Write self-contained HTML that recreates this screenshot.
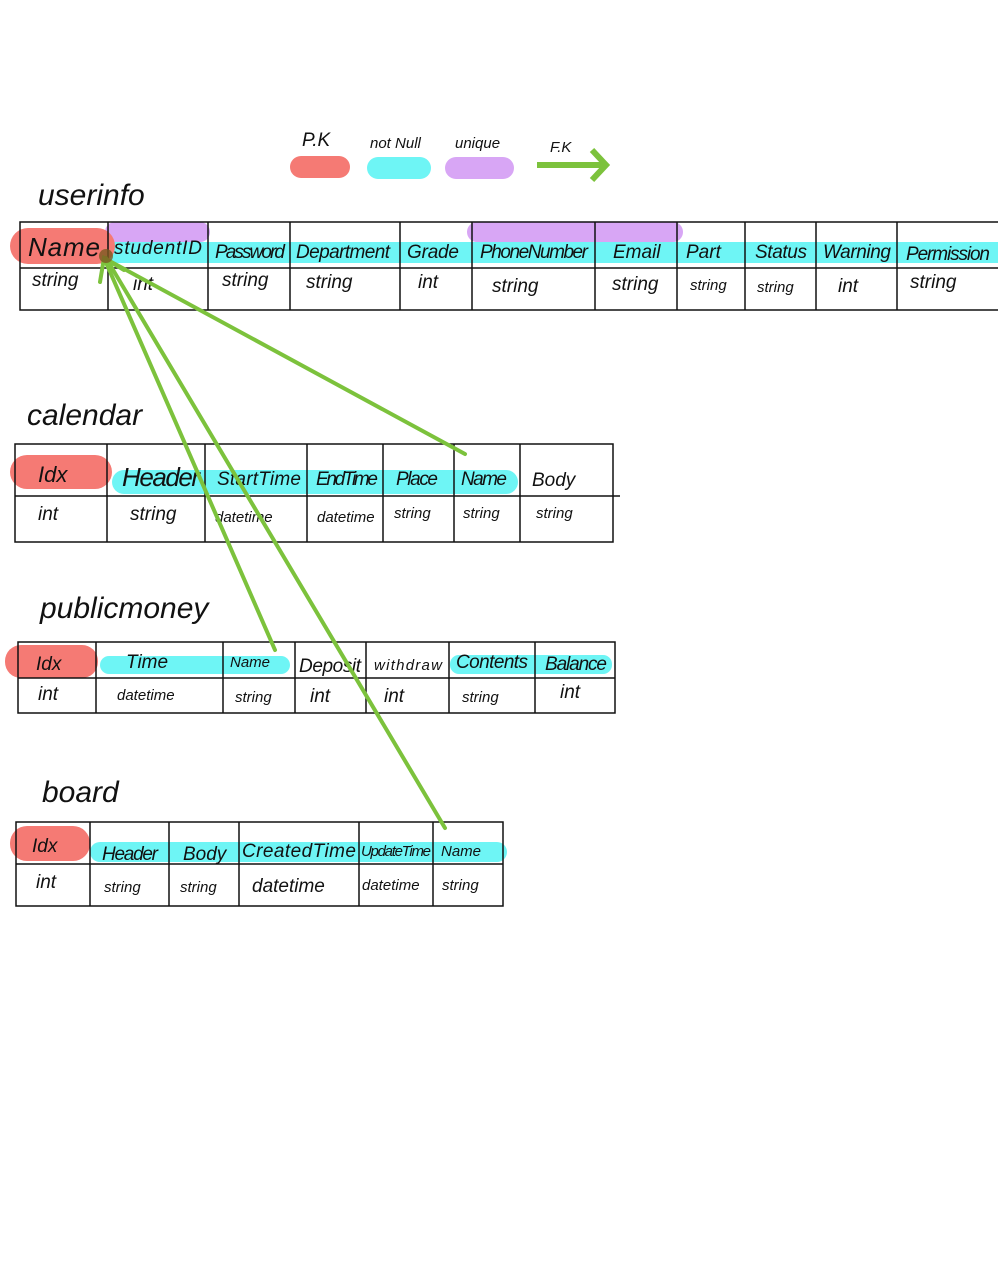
<!DOCTYPE html>
<html><head><meta charset="utf-8"><style>
html,body{margin:0;padding:0;background:#fff;}
svg{display:block;}
text{font-family:"Liberation Sans",sans-serif;fill:#111;}
.h{font-size:19px;font-style:italic;}
.t{font-size:15px;font-style:italic;}
.ti{font-size:30px;font-style:italic;font-weight:300;}
</style></head><body>
<svg width="998" height="1280" viewBox="0 0 998 1280" xmlns="http://www.w3.org/2000/svg">
<rect width="998" height="1280" fill="#fff"/>
<!-- legend -->
<text x="302" y="146" class="h">P.K</text>
<rect x="290" y="156" width="60" height="22" rx="11" fill="#f57a74"/>
<text x="370" y="148" class="t">not Null</text>
<rect x="367" y="157" width="64" height="22" rx="11" fill="#6ef5f5"/>
<text x="455" y="148" class="t">unique</text>
<rect x="445" y="157" width="69" height="22" rx="11" fill="#d8a6f5"/>
<text x="550" y="152" class="t">F.K</text>
<line x1="537" y1="165" x2="604" y2="165" stroke="#7cc23c" stroke-width="6"/>
<polyline points="592,150 606,165 592,180" fill="none" stroke="#7cc23c" stroke-width="6"/>

<!-- userinfo -->
<text x="38" y="205" class="ti">userinfo</text>
<rect x="105" y="222" width="105" height="20" rx="10" fill="#d8a6f5"/>
<rect x="467" y="222" width="216" height="20" rx="10" fill="#d8a6f5"/>
<rect x="110" y="242" width="888" height="21" fill="#6ef5f5"/>
<rect x="10" y="228" width="105" height="36" rx="18" fill="#f57a74"/>
<g stroke="#111" stroke-width="1.5" fill="none">
<polyline points="998,222 20,222 20,310 998,310"/>
<line x1="20" y1="268" x2="998" y2="268"/>
<line x1="108" y1="222" x2="108" y2="310"/><line x1="208" y1="222" x2="208" y2="310"/>
<line x1="290" y1="222" x2="290" y2="310"/><line x1="400" y1="222" x2="400" y2="310"/>
<line x1="472" y1="222" x2="472" y2="310"/><line x1="595" y1="222" x2="595" y2="310"/>
<line x1="677" y1="222" x2="677" y2="310"/><line x1="745" y1="222" x2="745" y2="310"/>
<line x1="816" y1="222" x2="816" y2="310"/><line x1="897" y1="222" x2="897" y2="310"/>
</g>
<text x="28" y="256" class="ti" style="font-size:26px" textLength="72">Name</text>
<text x="114" y="254" class="h" textLength="88">studentID</text>
<text x="215" y="258" class="h" textLength="70">Password</text>
<text x="296" y="258" class="h" textLength="94">Department</text>
<text x="407" y="258" class="h" textLength="52">Grade</text>
<text x="480" y="258" class="h" textLength="108">PhoneNumber</text>
<text x="613" y="258" class="h">Email</text>
<text x="686" y="258" class="h">Part</text>
<text x="755" y="258" class="h" textLength="52">Status</text>
<text x="823" y="258" class="h" textLength="68">Warning</text>
<text x="906" y="260" class="h" textLength="84">Permission</text>
<text x="32" y="286" class="h">string</text><text x="133" y="290" class="h">int</text>
<text x="222" y="286" class="h">string</text><text x="306" y="288" class="h">string</text>
<text x="418" y="288" class="h">int</text><text x="492" y="292" class="h">string</text>
<text x="612" y="290" class="h">string</text><text x="690" y="290" class="t">string</text>
<text x="757" y="292" class="t">string</text><text x="838" y="292" class="h">int</text>
<text x="910" y="288" class="h">string</text>

<!-- calendar -->
<text x="27" y="425" class="ti">calendar</text>
<rect x="112" y="470" width="406" height="24" rx="12" fill="#6ef5f5"/>
<rect x="10" y="455" width="102" height="34" rx="17" fill="#f57a74"/>
<g stroke="#111" stroke-width="1.5" fill="none">
<rect x="15" y="444" width="598" height="98"/>
<line x1="15" y1="496" x2="620" y2="496"/>
<line x1="107" y1="444" x2="107" y2="542"/><line x1="205" y1="444" x2="205" y2="542"/>
<line x1="307" y1="444" x2="307" y2="542"/><line x1="383" y1="444" x2="383" y2="542"/>
<line x1="454" y1="444" x2="454" y2="542"/><line x1="520" y1="444" x2="520" y2="542"/>
</g>
<text x="38" y="482" class="h" style="font-size:22px">Idx</text>
<text x="122" y="486" class="ti" style="font-size:26px" textLength="78">Header</text>
<text x="217" y="485" class="h" textLength="84">StartTime</text>
<text x="316" y="485" class="h" textLength="62">EndTime</text>
<text x="396" y="485" class="h" textLength="42">Place</text>
<text x="461" y="485" class="h" textLength="46">Name</text>
<text x="532" y="486" class="h">Body</text>
<text x="38" y="520" class="h">int</text><text x="130" y="520" class="h">string</text>
<text x="215" y="522" class="t">datetime</text><text x="317" y="522" class="t">datetime</text>
<text x="394" y="518" class="t">string</text><text x="463" y="518" class="t">string</text>
<text x="536" y="518" class="t">string</text>

<!-- publicmoney -->
<text x="40" y="618" class="ti">publicmoney</text>
<rect x="100" y="656" width="190" height="18" rx="9" fill="#6ef5f5"/>
<rect x="450" y="655" width="162" height="19" rx="9" fill="#6ef5f5"/>
<rect x="5" y="645" width="93" height="33" rx="16" fill="#f57a74"/>
<g stroke="#111" stroke-width="1.5" fill="none">
<rect x="18" y="642" width="597" height="71"/>
<line x1="18" y1="678" x2="615" y2="678"/>
<line x1="96" y1="642" x2="96" y2="713"/><line x1="223" y1="642" x2="223" y2="713"/>
<line x1="295" y1="642" x2="295" y2="713"/><line x1="366" y1="642" x2="366" y2="713"/>
<line x1="449" y1="642" x2="449" y2="713"/><line x1="535" y1="642" x2="535" y2="713"/>
</g>
<text x="36" y="670" class="h">Idx</text>
<text x="126" y="668" class="h">Time</text>
<text x="230" y="667" class="t">Name</text>
<text x="299" y="672" class="h" textLength="62">Deposit</text>
<text x="374" y="670" class="t" textLength="68">withdraw</text>
<text x="456" y="668" class="h" textLength="72">Contents</text>
<text x="545" y="670" class="h" textLength="62">Balance</text>
<text x="38" y="700" class="h">int</text><text x="117" y="700" class="t">datetime</text>
<text x="235" y="702" class="t">string</text><text x="310" y="702" class="h">int</text>
<text x="384" y="702" class="h">int</text><text x="462" y="702" class="t">string</text>
<text x="560" y="698" class="h">int</text>

<!-- board -->
<text x="42" y="802" class="ti">board</text>
<rect x="90" y="842" width="417" height="20" rx="10" fill="#6ef5f5"/>
<rect x="10" y="826" width="80" height="35" rx="17" fill="#f57a74"/>
<g stroke="#111" stroke-width="1.5" fill="none">
<rect x="16" y="822" width="487" height="84"/>
<line x1="16" y1="864" x2="503" y2="864"/>
<line x1="90" y1="822" x2="90" y2="906"/><line x1="169" y1="822" x2="169" y2="906"/>
<line x1="239" y1="822" x2="239" y2="906"/><line x1="359" y1="822" x2="359" y2="906"/>
<line x1="433" y1="822" x2="433" y2="906"/>
</g>
<text x="32" y="852" class="h">Idx</text>
<text x="102" y="860" class="h" textLength="56">Header</text>
<text x="183" y="860" class="h">Body</text>
<text x="242" y="857" class="h" textLength="114">CreatedTime</text>
<text x="361" y="856" class="t" textLength="70">UpdateTime</text>
<text x="441" y="856" class="t">Name</text>
<text x="36" y="888" class="h">int</text><text x="104" y="892" class="t">string</text>
<text x="180" y="892" class="t">string</text><text x="252" y="892" class="h">datetime</text>
<text x="362" y="890" class="t">datetime</text><text x="442" y="890" class="t">string</text>

<!-- FK lines -->
<g stroke="#7cc23c" stroke-width="4" fill="none" stroke-linecap="round">
<line x1="104" y1="258" x2="465" y2="454"/>
<line x1="104" y1="258" x2="275" y2="650"/>
<line x1="106" y1="258" x2="445" y2="828"/>
<polyline points="100,282 104,258 124,270"/>
</g>
<circle cx="106" cy="256" r="7" fill="#7a5a20" opacity="0.8"/>
</svg>
</body></html>
